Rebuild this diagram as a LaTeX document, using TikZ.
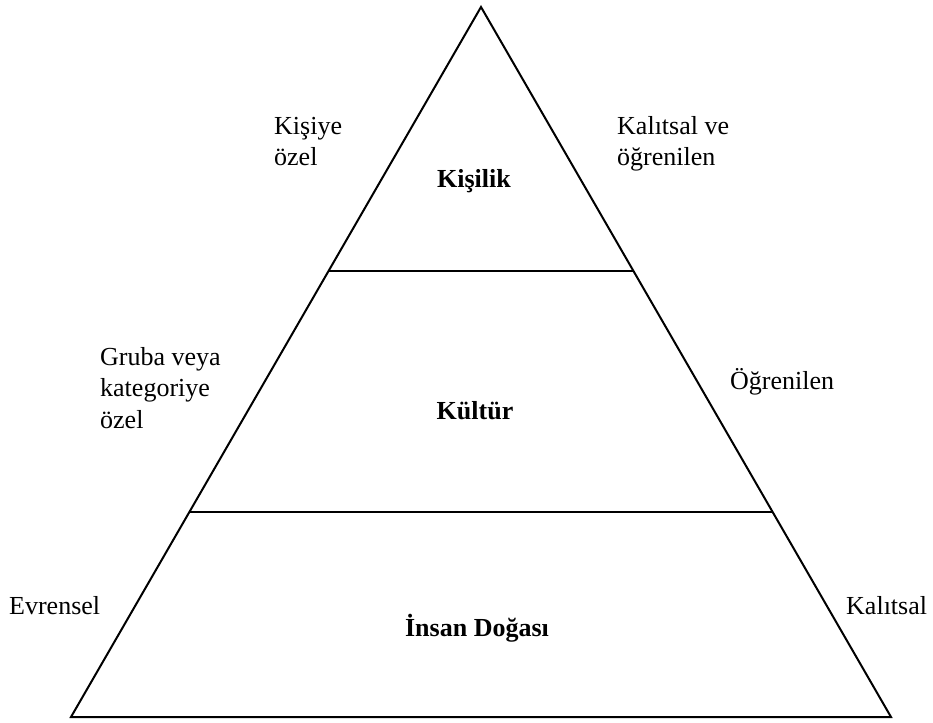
\documentclass[tikz,border=0pt]{standalone}
\usepackage{fontspec}
\setmainfont{Liberation Serif}
\usetikzlibrary{calc}
\begin{document}
\begin{tikzpicture}[x=1pt,y=-1pt,
  edge/.style={line width=2pt,line join=miter},
  side/.style={font=\fontsize{26}{31.5}\selectfont,inner sep=0pt,align=left,anchor=base west},
  layer/.style={font=\fontsize{26}{32}\selectfont\bfseries,inner sep=0pt,anchor=base}]
  \useasboundingbox (0,0) rectangle (933,722);
  % pyramid outline
  \coordinate (apex) at (481,7);
  \coordinate (bl) at (71,717);
  \coordinate (br) at (891,717);
  \draw[edge] (apex) -- (br) -- (bl) -- cycle;
  % layer dividers
  \coordinate (l1) at ($(apex)!0.3714!(bl)$);
  \coordinate (r1) at ($(apex)!0.3714!(br)$);
  \coordinate (l2) at ($(apex)!0.7108!(bl)$);
  \coordinate (r2) at ($(apex)!0.7108!(br)$);
  \draw[edge] (l1) -- (r1);
  \draw[edge] (l2) -- (r2);
  % layer names
  \node[layer] (kisilik) at (474,187) {Kişilik};
  \node[layer] (kultur) at (475,419) {Kültür};
  \node[layer] (insan) at (477,636) {İnsan Doğası};
  % left-hand notes (anchored on the baseline of the last line)
  \node[side] (ozel1) at (274,166) {Kişiye\\özel};
  \node[side] (grup) at (100,428) {Gruba veya\\kategoriye\\özel};
  \node[side] (evren) at (9,614) {Evrensel};
  % right-hand notes
  \node[side] (kalog) at (617,166) {Kalıtsal ve\\öğrenilen};
  \node[side] (ogren) at (730,389) {Öğrenilen};
  \node[side] (kalit) at (846,614) {Kalıtsal};
\end{tikzpicture}
\end{document}
